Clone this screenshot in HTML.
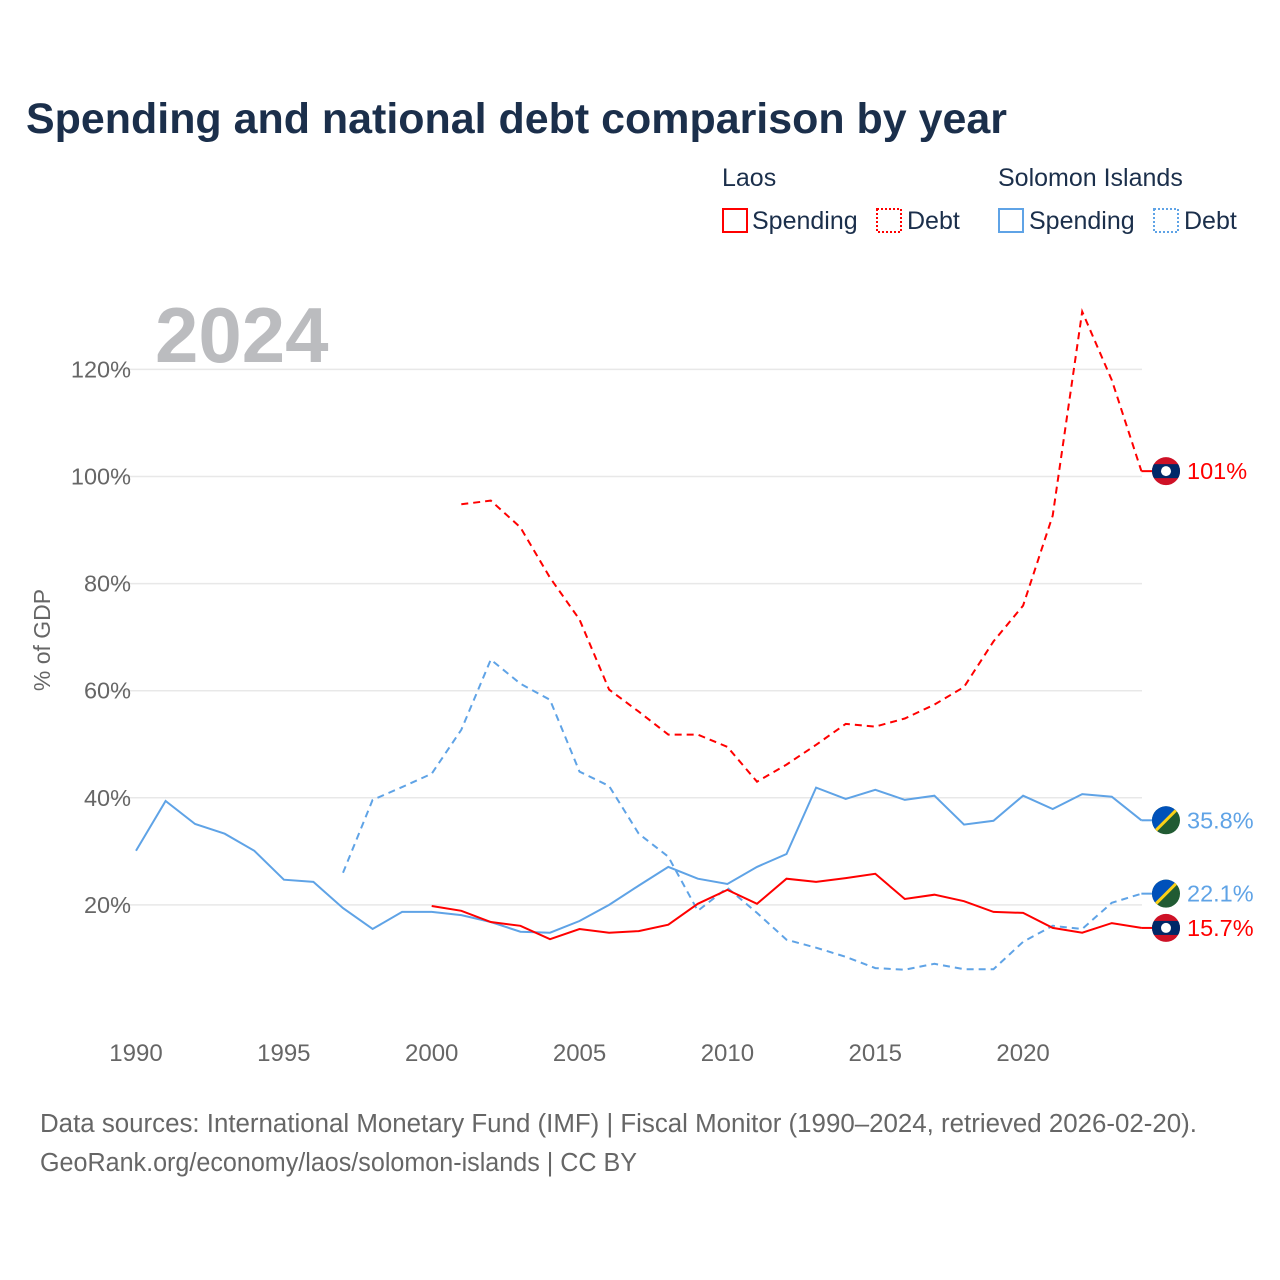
<!DOCTYPE html>
<html><head><meta charset="utf-8"><style>
body{margin:0;background:#fff;width:1280px;height:1280px;overflow:hidden;font-family:"Liberation Sans",sans-serif}
</style></head><body>
<svg id="c" width="1280" height="1280" style="position:absolute;left:0;top:0">
<text x="26" y="133" font-size="43" font-weight="bold" fill="#1b2f4b" textLength="981" lengthAdjust="spacingAndGlyphs">Spending and national debt comparison by year</text>
<g font-size="25" fill="#1b2f4b">
<text x="722" y="186">Laos</text>
<text x="998" y="186">Solomon Islands</text>
<g><rect x="723" y="209" width="24" height="23" fill="none" stroke="#ff0000" stroke-width="2"/><text x="752" y="229">Spending</text></g>
<g><rect x="877" y="209" width="24" height="23" fill="none" stroke="#ff0000" stroke-width="2" stroke-dasharray="2,2"/><text x="907" y="229">Debt</text></g>
<g><rect x="999" y="209" width="24" height="23" fill="none" stroke="#5fa3e6" stroke-width="2"/><text x="1029" y="229">Spending</text></g>
<g><rect x="1154" y="209" width="24" height="23" fill="none" stroke="#5fa3e6" stroke-width="2" stroke-dasharray="2,2"/><text x="1184" y="229">Debt</text></g>
</g>
<text x="155" y="362" font-size="78" font-weight="bold" fill="#bbbcbf">2024</text>
<text transform="translate(50,640) rotate(-90)" text-anchor="middle" font-size="23" fill="#666">% of GDP</text>
<g id="grid"></g><g id="lines"></g><g id="marks"></g>
<text x="40" y="1132" font-size="25.5" fill="#666" textLength="1157" lengthAdjust="spacingAndGlyphs">Data sources: International Monetary Fund (IMF) | Fiscal Monitor (1990–2024, retrieved 2026-02-20).</text>
<text x="40" y="1171" font-size="25.5" fill="#666" textLength="597" lengthAdjust="spacingAndGlyphs">GeoRank.org/economy/laos/solomon-islands | CC BY</text>
</svg>
<script>
const yTicks=[20,40,60,80,100,120];
const xTicks=[1990,1995,2000,2005,2010,2015,2020];
const solSpendYears=[1990,1991,1992,1993,1994,1995,1996,1997,1998,1999,2000,2001,2002,2003,2004,2005,2006,2007,2008,2009,2010,2011,2012,2013,2014,2015,2016,2017,2018,2019,2020,2021,2022,2023,2024];
const solSpend=[30.1,39.4,35.1,33.3,30.1,24.7,24.3,19.4,15.5,18.7,18.7,18.1,16.8,15.0,14.8,17.0,20.0,23.6,27.1,24.9,23.9,27.1,29.5,41.9,39.8,41.5,39.6,40.4,35.0,35.7,40.4,37.9,40.7,40.2,35.8];
const solDebtYears=[1997,1998,1999,2000,2001,2002,2003,2004,2005,2006,2007,2008,2009,2010,2011,2012,2013,2014,2015,2016,2017,2018,2019,2020,2021,2022,2023,2024];
const solDebt=[26,39.6,42,44.5,52.7,65.8,61.3,58.3,44.9,42.2,33.3,29,18.9,23.2,18.5,13.5,12,10.3,8.2,7.9,9,8,8,13.1,16.1,15.5,20.4,22.1];
const laoSpendYears=[2000,2001,2002,2003,2004,2005,2006,2007,2008,2009,2010,2011,2012,2013,2014,2015,2016,2017,2018,2019,2020,2021,2022,2023,2024];
const laoSpend=[19.8,18.9,16.8,16.1,13.6,15.5,14.8,15.1,16.3,20.2,22.8,20.2,24.9,24.3,25,25.8,21.1,21.9,20.7,18.7,18.5,15.7,14.8,16.6,15.7];
const laoDebtYears=[2001,2002,2003,2004,2005,2006,2007,2008,2009,2010,2011,2012,2013,2014,2015,2016,2017,2018,2019,2020,2021,2022,2023,2024];
const laoDebt=[94.8,95.5,90.5,81.1,73.3,60.2,56.1,51.8,51.8,49.5,43,46.2,49.9,53.8,53.3,54.8,57.4,60.7,69.2,75.9,92.7,130.8,118,101];
const endLabels=["101%","35.8%","22.1%","15.7%"];
const NS="http://www.w3.org/2000/svg";
const X=y=>136+(y-1990)*29.57;
const Y=v=>1012-v*5.355;
function mk(t,a,p){const e=document.createElementNS(NS,t);for(const k in a)e.setAttribute(k,a[k]);p.appendChild(e);return e;}
const grid=document.getElementById('grid');
yTicks.forEach(v=>{
 const l=mk('line',{x1:110,x2:1142,y1:Y(v),y2:Y(v),stroke:'#e8e8e8','stroke-width':1.5},grid);
 
 
 const t=mk('text',{x:131,y:Y(v)+8,'text-anchor':'end','font-size':23.5,fill:'#666'},grid);t.textContent=v+'%';
 
 
});
xTicks.forEach(y=>{
 const t=mk('text',{x:X(y),y:1061,'text-anchor':'middle','font-size':24,fill:'#666'},grid);t.textContent=y;
 
 
});
const lines=document.getElementById('lines');
function series(ys,vs,col,dash,name){
 const d=ys.map((y,i)=>(i?'L':'M')+X(y).toFixed(1)+','+Y(vs[i]).toFixed(1)).join('');
 const p=mk('path',{d:d,fill:'none',stroke:col,'stroke-width':2,'stroke-dasharray':dash?'7,5':'none'},lines);
 
 
 const last=vs[vs.length-1];
 const c=mk('line',{x1:X(ys[ys.length-1]),x2:1155,y1:Y(last),y2:Y(last),stroke:col,'stroke-width':2},lines);
 
 
}
series(solDebtYears,solDebt,'#5fa3e6',true,'solomon-debt-line');
series(solSpendYears,solSpend,'#5fa3e6',false,'solomon-spending-line');
series(laoDebtYears,laoDebt,'#ff0000',true,'laos-debt-line');
series(laoSpendYears,laoSpend,'#ff0000',false,'laos-spending-line');
const marks=document.getElementById('marks');
function flag(v,type,label,col){
 const cy=Y(v),cx=1166;
 const g=mk('g',{},marks);
 
 
 const id='cl'+Math.round(cy);
 const cp=mk('clipPath',{id:id},g);mk('circle',{cx:cx,cy:cy,r:14},cp);
 const f=mk('g',{'clip-path':'url(#'+id+')'},g);
 if(type.startsWith('laos')){
  mk('rect',{x:cx-15,y:cy-15,width:30,height:30,fill:'#ce1126'},f);
  mk('rect',{x:cx-15,y:cy-7,width:30,height:14,fill:'#002868'},f);
  mk('circle',{cx:cx,cy:cy,r:5,fill:'#fff'},f);
 }else{
  mk('rect',{x:cx-15,y:cy-15,width:30,height:30,fill:'#215b33'},f);
  mk('polygon',{points:(cx-15)+','+(cy-15)+' '+(cx+15)+','+(cy-15)+' '+(cx-15)+','+(cy+15),fill:'#0051ba'},f);
  mk('line',{x1:cx-15,y1:cy+15,x2:cx+15,y2:cy-15,stroke:'#fcd116','stroke-width':3},f);
 }
 const t=mk('text',{x:1187,y:cy+8,'font-size':23.5,fill:col},g);t.textContent=label;
}
flag(laoDebt[laoDebt.length-1],'laos-debt',endLabels[0],'#ff0000');
flag(solSpend[solSpend.length-1],'solomon-spending',endLabels[1],'#5fa3e6');
flag(solDebt[solDebt.length-1],'solomon-debt',endLabels[2],'#5fa3e6');
flag(laoSpend[laoSpend.length-1],'laos-spending',endLabels[3],'#ff0000');
</script>
</body></html>
